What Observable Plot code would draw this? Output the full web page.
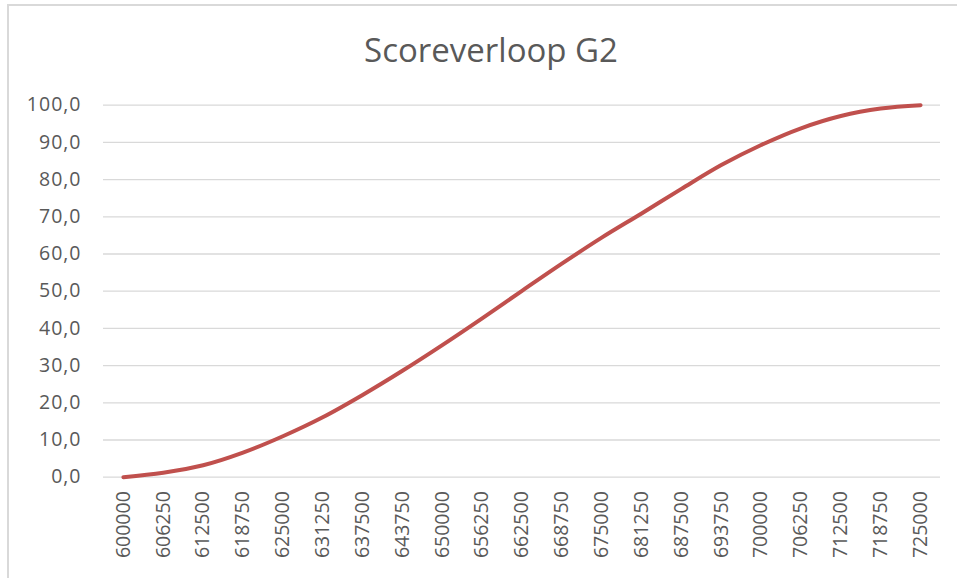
<!DOCTYPE html>
<html>
<head>
<meta charset="utf-8">
<script src="https://cdn.jsdelivr.net/npm/d3@7"></script>
<script src="https://cdn.jsdelivr.net/npm/@observablehq/plot@0.6"></script>
<style>
  html, body { margin: 0; padding: 0; background: #fff; overflow: hidden; }
  #wrap { position: relative; width: 957px; height: 578px; }
  #frame { position: absolute; left: 7px; top: 4px; width: 970px; height: 600px;
           border: 2px solid #d9d9d9; box-sizing: border-box; }
  #title { position: absolute; left: 0; width: 982px; top: 27px; text-align: center;
           font-family: "Open Sans", sans-serif; font-size: 33px; color: #595959; line-height: 45px; white-space: nowrap; }
  #chart { position: absolute; left: 0; top: 0; }
</style>
</head>
<body>
<div id="wrap">
  <div id="frame"></div>
  <div id="title">Scoreverloop G2</div>
  <div id="chart"></div>
</div>
<script>
const categories = ["600000","606250","612500","618750","625000","631250","637500","643750","650000","656250","662500","668750","675000","681250","687500","693750","700000","706250","712500","718750","725000"];
const scores = [0.0, 1.2, 3.2, 6.6, 11.0, 16.1, 22.1, 28.6, 35.5, 42.7, 50.1, 57.4, 64.4, 70.9, 77.5, 83.9, 89.3, 93.8, 97.1, 99.1, 100.0];
const yTicks = [0,10,20,30,40,50,60,70,80,90,100];

const data = categories.map((c, i) => ({cat: c, score: scores[i]}));

const chart = Plot.plot({
  width: 957,
  height: 578,
  marginLeft: 103,
  marginRight: 17,
  marginTop: 104.7,
  marginBottom: 101.3,
  style: { fontFamily: "Open Sans, sans-serif", fontSize: "19.5px", color: "#595959", background: "transparent", overflow: "visible" },
  x: { type: "point", domain: categories, padding: 0.5, round: false, label: null },
  y: { domain: [0, 100], label: null },
  marks: [
    Plot.gridY(yTicks, { stroke: "#d9d9d9", strokeOpacity: 1, strokeWidth: 1.3 }),
    Plot.axisY(yTicks, { tickSize: 0, tickPadding: 22, tickFormat: d => d.toFixed(1).replace(".", ","), fill: "#595959", label: null }),
    Plot.axisX({ tickSize: 0, tickPadding: 14, tickRotate: -90, fill: "#595959", label: null }),
    Plot.line(data, { x: "cat", y: "score", stroke: "#c0504d", strokeWidth: 4, curve: "catmull-rom", strokeLinecap: "round", strokeLinejoin: "round" })
  ]
});
d3.select(chart).selectAll('g[aria-label="y-axis tick label"] text').attr("letter-spacing", "1px");
document.getElementById("chart").appendChild(chart);
</script>
</body>
</html>
